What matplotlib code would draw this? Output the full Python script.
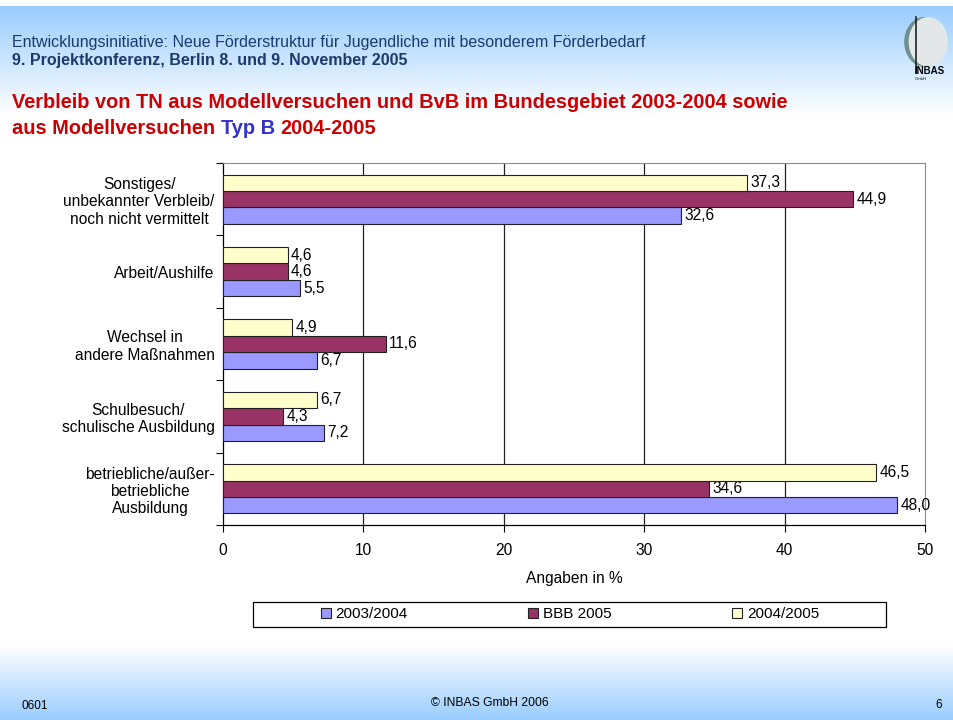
import matplotlib.pyplot as plt
import numpy as np
from matplotlib.patches import Patch, Rectangle, Ellipse

plt.rcParams['font.family'] = ['Liberation Sans', 'DejaVu Sans']

# Daten (unterste Kategorie zuerst, wie in Excel)
kategorien = ["betriebliche/außer-\nbetriebliche\nAusbildung",
              "Schulbesuch/\nschulische Ausbildung",
              "Wechsel in\nandere Maßnahmen",
              "Arbeit/Aushilfe",
              "Sonstiges/\nunbekannter Verbleib/\nnoch nicht vermittelt"]
werte_0304 = [48.0, 7.2, 6.7, 5.5, 32.6]
werte_bbb = [34.6, 4.3, 11.6, 4.6, 44.9]
werte_0405 = [46.5, 6.7, 4.9, 4.6, 37.3]
serien = ["2003/2004", "BBB 2005", "2004/2005"]
farben = ["#9999FF", "#993366", "#FFFFCC"]
x_ticks = [0, 10, 20, 30, 40, 50]

W, H = 954, 720
rot = "#CC0000"
blau_titel = "#3333CC"
navy = "#1A3A6E"
fs = 11.2


def px(x, y):
    return x / W, 1 - y / H


fig = plt.figure(figsize=(W / 100, H / 100), dpi=100)

# Hintergrund mit Verlauf oben und unten
bg = fig.add_axes([0, 0, 1, 1], zorder=-10)
zeilen = np.arange(H)
hellblau = np.array([0.6, 0.8, 1.0])
t = np.zeros(H)
oben = (zeilen >= 6) & (zeilen < 115)
t[oben] = 1 - (zeilen[oben] - 6) / 109
unten = zeilen >= 645
t[unten] = (zeilen[unten] - 645) / 75
img = 1 - t[:, None] * (1 - hellblau)[None, :]
img = np.repeat(img[:, None, :], W, axis=1)
bg.imshow(img, aspect='auto', extent=[0, W, H, 0])
bg.set_xlim(0, W)
bg.set_ylim(H, 0)
bg.axis('off')

# Kopfzeilen
fig.text(*px(12, 42), "Entwicklungsinitiative: Neue Förderstruktur für Jugendliche mit besonderem Förderbedarf",
         color=navy, fontsize=11.5, va='center')
fig.text(*px(12, 60), "9. Projektkonferenz, Berlin 8. und 9. November 2005",
         color=navy, fontsize=11.5, fontweight='bold', va='center')

# Titel
titel_kw = dict(fontsize=14.4, fontweight='bold', va='center')
fig.text(*px(12, 103), "Verbleib von TN aus Modellversuchen und BvB im Bundesgebiet 2003-2004 sowie",
         color=rot, **titel_kw)
renderer = fig.canvas.get_renderer()


def breite(s):
    tt = fig.text(0, 0, s, **titel_kw)
    w = tt.get_window_extent(renderer).width
    tt.remove()
    return w


x0 = 12
fig.text(*px(x0, 128), "aus Modellversuchen", color=rot, **titel_kw)
fig.text(*px(x0 + breite("aus Modellversuchen Typ B") - breite("Typ B"), 128), "Typ B",
         color=blau_titel, **titel_kw)
fig.text(*px(x0 + breite("aus Modellversuchen Typ B 2004-2005") - breite("2004-2005"), 128),
         "2004-2005", color=rot, **titel_kw)

# Logo
lg = fig.add_axes([898 / W, 1 - 80 / H, 56 / W, 72 / H])
lg.set_xlim(0, 1)
lg.set_ylim(0, 1)
lg.axis('off')
lg.add_patch(Ellipse((0.47, 0.53), 0.72, 0.69, facecolor="#6F8F90", edgecolor='none'))
lg.add_patch(Ellipse((0.54, 0.53), 0.7, 0.69, facecolor="#E2E8E8", edgecolor='none'))
lg.plot([0.32, 0.32], [0.1, 0.88], color="#222222", lw=1.2)
lg.text(0.3, 0.13, "INBAS", fontsize=7, fontweight='bold', va='center', clip_on=False)
lg.text(0.3, 0.02, "GmbH", fontsize=3, va='center')

# Diagramm
ax = fig.add_axes([223 / W, 1 - 525 / H, (925 - 223) / W, (525 - 163) / H])
y = np.arange(len(kategorien))
h = 0.227
for i, (werte, name, farbe) in enumerate(zip([werte_0304, werte_bbb, werte_0405], serien, farben)):
    bars = ax.barh(y + (i - 1) * h, werte, height=h, color=farbe, edgecolor='#222222',
                   linewidth=0.8, label=name, zorder=3)
    ax.bar_label(bars, labels=[f"{v:.1f}".replace('.', ',') for v in werte], padding=2.5,
                 fontsize=fs, clip_on=False)

ax.set_xlim(0, 50)
ax.set_ylim(-0.5, len(kategorien) - 0.5)
ax.set_xticks(x_ticks)
ax.set_xticklabels([str(v) for v in x_ticks], fontsize=fs)
ax.tick_params(axis='x', direction='out', length=5, width=0.8, pad=8, color='black')
ax.set_yticks(y)
ax.set_yticklabels(kategorien, fontsize=fs, multialignment='center', linespacing=1.2)
ax.set_yticks(np.arange(-0.5, len(kategorien), 1), minor=True)
ax.tick_params(axis='y', which='major', length=0, pad=6)
ax.tick_params(axis='y', which='minor', length=5, width=0.8, direction='out', color='black')
ax.set_axisbelow(True)
ax.xaxis.grid(True, color='#222222', linewidth=0.9)
for gl in ax.get_xgridlines()[::len(x_ticks) - 1]:
    gl.set_visible(False)
for s in ['top', 'right']:
    ax.spines[s].set_color('#8C8C8C')
for s in ['left', 'bottom']:
    ax.spines[s].set_color('black')
    ax.spines[s].set_linewidth(0.9)

fig.text(*px(574, 578), "Angaben in %", fontsize=fs, ha='center', va='center')

# Legende
fig.add_artist(Rectangle(px(253, 627), 633 / W, 25 / H, transform=fig.transFigure,
                         facecolor='white', edgecolor='black', linewidth=0.9))
handles = [Patch(facecolor=f, edgecolor='#222222', linewidth=0.8) for f in farben]
fig.legend(handles, serien, loc='center', bbox_to_anchor=px(570, 614.5), ncol=3, frameon=False,
           fontsize=11, columnspacing=7.9, handlelength=0.65, handleheight=0.65, handletextpad=0.3)

# Fußzeile
fig.text(*px(22, 706), "0601", fontsize=8.5, va='center')
fig.text(*px(490, 703), "© INBAS GmbH 2006", fontsize=8.7, ha='center', va='center')
fig.text(*px(935, 705), "6", fontsize=8.5, va='center')

fig.savefig("out.png", dpi=100)
